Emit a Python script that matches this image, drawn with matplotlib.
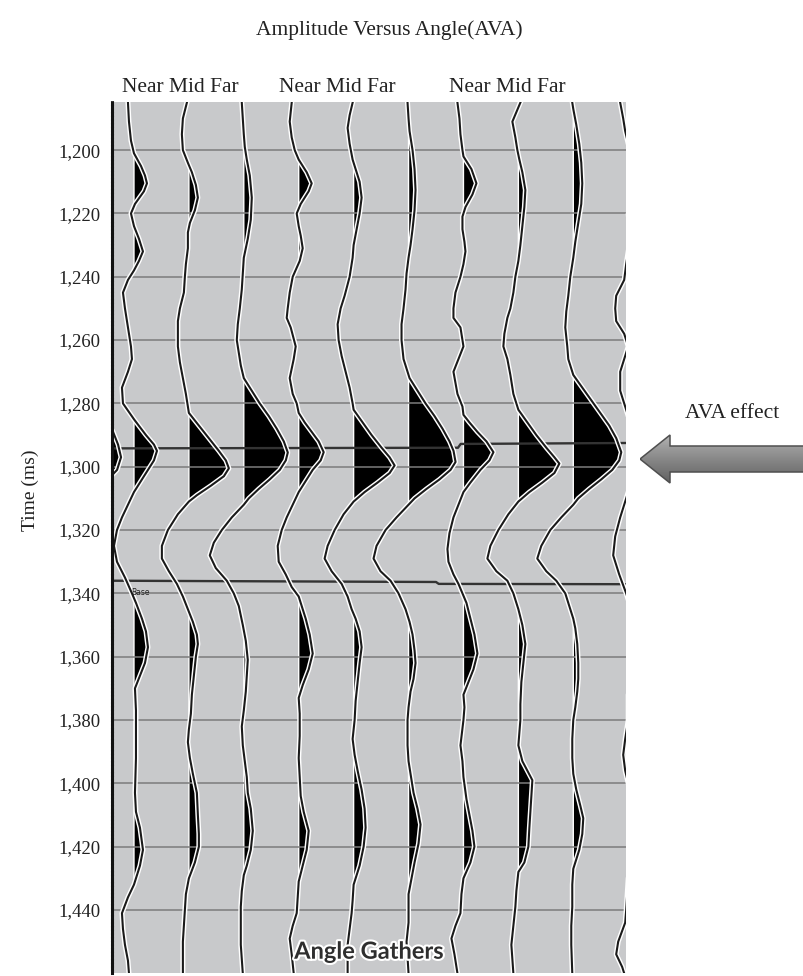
import numpy as np
import matplotlib.pyplot as plt
import matplotlib.patheffects as pe
from matplotlib.patches import Polygon

plt.rcParams['font.family'] = ['Liberation Serif', 'DejaVu Serif']

# wiggle picks per trace: (time ms, amplitude), left to right
far_0 = [(1185, -2), (1200, 3), (1215, 8), (1234, 0), (1255, -6), (1272, 0), (1278, 12),
         (1284, 26), (1289, 34), (1293, 39), (1297, 42), (1301, 38), (1305, 26), (1311, 0),
         (1320, -22), (1328, -35), (1340, -10), (1360, 4), (1400, 3), (1415, 9), (1430, 0),
         (1460, -2)]
near_1 = [(1185, -6), (1191, -5), (1197, -3), (1201, 0), (1205, 7), (1208, 11), (1210.5, 13),
          (1213, 10), (1217, 1), (1220, -3), (1224, 0), (1228, 5), (1232, 9), (1235, 5),
          (1238, 0), (1241, -6), (1245, -11), (1250, -9), (1256, -6), (1262, -3), (1266, -2),
          (1270, -6), (1275, -12), (1280, -11), (1285, 0), (1290, 12), (1293, 20), (1295, 23),
          (1298, 20), (1302, 12), (1305, 6), (1308, 0), (1312, -6), (1316, -12), (1320, -17),
          (1325, -20), (1330, -17), (1335, -9), (1340, -2), (1343, 2), (1348, 8), (1352, 12),
          (1357, 14), (1362, 11), (1366, 6), (1370, 1), (1377, 2), (1392, 2), (1403, 1),
          (1409, 2), (1414, 6), (1421, 9), (1426, 6), (1432, 0), (1436, -6), (1441, -12),
          (1446, -11), (1451, -9), (1456, -6), (1460, -5)]
mid_2 = [(1185, -2), (1190, -6), (1195, -7), (1200, -6), (1204, -1), (1207, 3), (1211, 7),
         (1215, 9), (1219, 6), (1223, 1), (1226, -1), (1231, -1), (1236, -3), (1240, -4),
         (1245, -5), (1250, -9), (1254, -11), (1262, -11), (1267, -9), (1272, -6), (1277, -3),
         (1283, 0), (1287, 10), (1291, 20), (1295, 30), (1298, 37), (1300.5, 40), (1303, 35),
         (1306, 22), (1309, 8), (1311, 0), (1315, -11), (1320, -21), (1325, -27), (1329, -27),
         (1333, -20), (1337, -12), (1341, -6), (1345, -1), (1349, 4), (1353, 8), (1356, 9),
         (1360, 7), (1366, 5), (1372, 3), (1378, 2), (1383, 0), (1387, -1), (1392, 1),
         (1397, 4), (1403, 8), (1410, 9), (1416, 10), (1420, 10), (1425, 6), (1430, 0),
         (1435, -3), (1440, -4), (1445, -5), (1450, -6), (1460, -6)]
far_3 = [(1185, -2), (1190, -1), (1195, 0), (1199, 1), (1203, 3), (1208, 6), (1215, 8),
         (1222, 7), (1228, 4), (1234, 0), (1239, -1), (1244, -2), (1250, -4), (1255, -6),
         (1260, -7), (1264, -5), (1268, -3), (1272, 0), (1276, 8), (1280, 16), (1284, 25),
         (1288, 33), (1292, 40), (1295.5, 44), (1298, 42), (1301, 36), (1304, 26), (1307, 15),
         (1310, 5), (1312, 0), (1316, -12), (1320, -22), (1324, -30), (1328, -34), (1332, -28),
         (1336, -17), (1340, -10), (1344, -5), (1350, -1), (1355, 2), (1361, 4), (1366, 3),
         (1371, 2), (1377, 0), (1382, -2), (1388, -1), (1393, 1), (1398, 3), (1403, 4),
         (1408, 7), (1415, 9), (1421, 7), (1426, 3), (1429, 0), (1434, -2), (1439, -3),
         (1445, -3), (1451, -3), (1460, -1)]
near_4 = [(1185, -7), (1191, -9), (1196, -7), (1200, -4), (1203, 0), (1207, 8), (1210.5, 13),
          (1213, 10), (1217, 2), (1220, -2), (1224, 0), (1227, 2), (1231, 4), (1235, 1),
          (1240, -6), (1245, -9), (1250, -11), (1253, -12), (1256, -8), (1262, -3), (1266, -5),
          (1272, -9), (1277, -6), (1280, -2), (1283, 0), (1286, 6), (1289, 13), (1292, 20),
          (1295.4, 25), (1298, 22), (1301, 14), (1305, 6), (1308, 0), (1312, -6), (1316, -12),
          (1320, -17), (1325, -21), (1330, -20), (1334, -13), (1338, -7), (1341, 0), (1344, 3),
          (1348, 7), (1353, 11), (1359, 14), (1364, 10), (1369, 4), (1373, 0), (1378, 1),
          (1385, 1), (1392, 0), (1398, 1), (1404, 2), (1409, 5), (1415, 10), (1421, 8),
          (1426, 4), (1431, 0), (1436, -1), (1441, -2), (1445, -6), (1449, -9), (1454, -7),
          (1460, -5)]
mid_5 = [(1185, -1), (1189, -4), (1193, -6), (1198, -4), (1203, -1), (1206, 2), (1210, 6),
         (1215, 8), (1220, 6), (1225, 3), (1230, 0), (1234, -1), (1240, -4), (1246, -9),
         (1250, -13), (1255, -16), (1260, -15), (1265, -12), (1270, -8), (1275, -4), (1280, -1),
         (1282, 0), (1286, 9), (1290, 18), (1294, 28), (1297, 36), (1299.6, 41), (1302, 36),
         (1305, 24), (1308, 11), (1311, 0), (1315, -10), (1320, -19), (1325, -26), (1329, -29),
         (1333, -22), (1337, -12), (1341, -6), (1345, -2), (1348, 2), (1352, 6), (1357, 8),
         (1362, 6), (1368, 4), (1374, 2), (1380, 1), (1386, -1), (1391, 1), (1396, 4),
         (1402, 8), (1408, 11), (1414, 12), (1420, 10), (1426, 6), (1432, 0), (1437, -1),
         (1441, -2), (1446, -4), (1451, -6), (1460, -6)]
far_6 = [(1185, -1), (1190, 0), (1194, 1), (1200, 4), (1206, 6), (1212.6, 7), (1219, 6),
         (1225, 4), (1230, 2), (1234, 0), (1239, -2), (1244, -3), (1250, -5), (1255, -7),
         (1260, -7), (1266, -5), (1270, -1), (1272, 1), (1276, 9), (1280, 17), (1284, 26),
         (1288, 34), (1292, 41), (1295, 45), (1298.5, 47), (1301, 42), (1304, 31), (1307, 18),
         (1310, 6), (1312, 0), (1316, -12), (1320, -23), (1325, -32), (1329, -35), (1333, -28),
         (1336, -18), (1340, -10), (1345, -3), (1349, 1), (1353, 4), (1358, 6), (1362, 7),
         (1367, 5), (1371, 2), (1376, 0), (1380, -1), (1388, -1), (1393, 0), (1397, 2),
         (1403, 5), (1408, 9), (1413, 12), (1419, 10), (1425, 6), (1430, 3), (1435, 0),
         (1444, 0), (1450, -2), (1460, 0)]
near_7 = [(1185, -6), (1190, -4), (1195, -3), (1200, -1), (1202, 0), (1206, 8), (1210.5, 13),
          (1214, 9), (1218, 2), (1221, -1), (1225, -1), (1229, 1), (1232, 2), (1236, 0),
          (1240, -3), (1245, -8), (1250, -10), (1253, -10), (1256, -3), (1262, 0), (1266, -5),
          (1270, -10), (1277, -6), (1281, -1), (1283.6, 0), (1286, 6), (1289, 14), (1292, 23),
          (1295.4, 30), (1298, 26), (1301, 17), (1305, 7), (1308, 0), (1312, -5), (1316, -10),
          (1321, -14), (1326, -16), (1330, -15), (1334, -10), (1337, -5), (1340, -1), (1343, 3),
          (1348, 7), (1353, 11), (1359, 14), (1364, 10), (1368, 5), (1372, 0), (1376, 1),
          (1380, 0), (1388, -3), (1393, -1), (1398, 0), (1405, 3), (1410, 6), (1415, 9),
          (1420, 11), (1425, 7), (1430, 0), (1435, -2), (1441, -3), (1445, -8), (1449, -12),
          (1454, -9), (1460, -6)]
mid_8 = [(1185, 2), (1188, -2), (1191, -6), (1196, -3), (1200, -1), (1203, 1), (1207, 4),
         (1212.6, 7), (1218, 6), (1224, 4), (1230, 2), (1235, 0), (1240, -3), (1245, -5),
         (1250, -8), (1253, -11), (1258, -14), (1262, -15), (1266, -11), (1271, -8), (1277, -5),
         (1282, 0), (1286, 9), (1290, 18), (1294, 28), (1297, 36), (1299, 41), (1302, 36),
         (1305, 24), (1308, 11), (1311, 0), (1315, -10), (1320, -20), (1325, -28), (1329, -31),
         (1333, -22), (1336, -11), (1340, -5), (1345, 0), (1350, 4), (1356, 7), (1362, 5),
         (1368, 3), (1375, 2), (1380, 2), (1388, 0), (1393, 4), (1399, 14), (1404, 13),
         (1409, 12), (1414, 11), (1420, 10), (1425, 6), (1428, 0), (1434, -2), (1439, -3),
         (1445, -5), (1451, -7), (1460, -5)]
far_9 = [(1185, -1), (1187, 0), (1192, 3), (1198, 6), (1204, 8), (1210.5, 9), (1217, 8),
         (1223, 5), (1229, 2), (1234, 0), (1240, -3), (1246, -5), (1251, -7), (1256, -8),
         (1262, -6), (1266, -5), (1271, 0), (1275, 9), (1279, 18), (1283, 27), (1287, 36),
         (1291, 43), (1295.4, 48), (1298, 46), (1301, 39), (1304, 28), (1307, 16), (1310, 5),
         (1312, 0), (1316, -12), (1320, -23), (1325, -32), (1329, -36), (1333, -27),
         (1336, -17), (1340, -8), (1345, -3), (1348, 0), (1351, 2), (1356, 4), (1362, 5),
         (1367, 5), (1371, 4), (1376, 2), (1380, 0), (1386, -1), (1392, -1), (1397, 0),
         (1402, 3), (1407, 7), (1411, 10), (1416, 9), (1421, 6), (1427, 0), (1432, -1),
         (1439, -1), (1445, -2), (1451, -2), (1460, -1)]
near_10 = [(1185, -8), (1190, -5), (1194, -3), (1198, 0), (1205, 8), (1210, 13), (1215, 8),
           (1220, 0), (1228, 2), (1236, -2), (1241, -4), (1246, -12), (1250, -13), (1254, -12),
           (1258, -4), (1262, 0), (1266, -4), (1270, -8), (1276, -8), (1280, -4), (1284, 0),
           (1295, 25), (1308, 0), (1316, -8), (1322, -13), (1328, -15), (1334, -9), (1340, -2),
           (1344, 2), (1359, 14), (1372, 0), (1380, 0), (1386, -3), (1391, -5), (1396, -3),
           (1400, 0), (1415, 10), (1430, 0), (1440, -2), (1444, -3), (1450, -10), (1454, -12),
           (1458, -6), (1460, -4)]

traces = [far_0, near_1, mid_2, far_3, near_4, mid_5, far_6, near_7, mid_8, far_9, near_10]
gain = 1 / 54.9  # amplitude units per trace spacing

grid_times = np.arange(1200, 1441, 20)

# interpreted horizons (trace position, time)
top_x = [0.6, 6.9, 6.95, 9.96]
top_t = [1294.2, 1294.0, 1292.8, 1292.5]
base_x = [0.6, 6.5, 6.55, 9.96]
base_t = [1336.0, 1336.4, 1337.0, 1337.1]

group_labels = ['Near Mid Far', 'Near Mid Far', 'Near Mid Far']

fig = plt.figure(figsize=(8.04, 9.76), dpi=100)
ax = fig.add_axes([112 / 804, 3 / 976, 514 / 804, 871 / 976])
ax.set_facecolor('#c8c9cb')

halo = [pe.withStroke(linewidth=3.6, foreground='white')]
for pos, tr in enumerate(traces):
    t = np.array([p[0] for p in tr], dtype=float)
    a = np.array([p[1] for p in tr], dtype=float)
    x = pos + a * gain
    ax.fill_betweenx(t, pos, x, where=a > 0, interpolate=True,
                     facecolor='black', edgecolor='white', lw=1.0, zorder=2)
    ax.plot(x, t, color='#1a1a1a', lw=1.5, zorder=4, path_effects=halo)

for gt in grid_times:
    ax.axhline(gt, color='#7c7c7c', lw=1.1, zorder=3)
ax.plot(top_x, top_t, color='#333333', lw=1.7, zorder=3.5)
ax.plot(base_x, base_t, color='#333333', lw=1.7, zorder=3.5)
ax.text(0.95, 1338.2, 'Base', fontsize=5.5, family='DejaVu Sans', color='#222',
        va='top', ha='left', zorder=5)

ax.set_xlim(0.6, 9.96)
ax.set_ylim(1459.9, 1184.8)
ax.set_xticks([])
ax.set_yticks(grid_times)
ax.set_yticklabels([f'{v:,}' for v in grid_times])
ax.tick_params(axis='y', length=0, pad=8.5, labelsize=13.5, labelcolor='#222222')
for side in ['top', 'right', 'bottom']:
    ax.spines[side].set_visible(False)
ax.spines['left'].set_linestyle((0, (0.6, 0.6)))
ax.spines['left'].set_linewidth(2.2)
ax.spines['left'].set_color('#111111')
ax.spines['left'].set_zorder(6)

fig.text(30 / 804, 1 - 490 / 976, 'Time (ms)', rotation=90, ha='center', va='center',
         fontsize=14, color='#222222')
fig.text(389 / 804, 1 - 30 / 976, 'Amplitude Versus Angle(AVA)', ha='center', va='center',
         fontsize=15.5, color='#222222')
for lx, lab in zip([180, 337, 507], group_labels):
    fig.text(lx / 804, 1 - 88 / 976, lab, ha='center', va='center', fontsize=15.5,
             color='#222222')

fig.text(732 / 804, 1 - 413 / 976, 'AVA effect', ha='center', va='center', fontsize=15.5,
         color='#222222')

# shaded block arrow pointing at the horizon
arrow_px = [(640, 459), (670, 435), (670, 446), (806, 446), (806, 472), (670, 472), (670, 483)]
arr_ax = fig.add_axes([640 / 804, 1 - 484 / 976, 166 / 804, 50 / 976])
arr_ax.set_xlim(640, 806)
arr_ax.set_ylim(484, 434)
arr_ax.axis('off')
shade = np.linspace(0, 1, 64)[:, None] * np.ones((1, 4))
shade = np.interp(shade, [0, 0.25, 0.55, 1], [0.72, 0.62, 0.52, 0.38])
arrow = Polygon(arrow_px, closed=True, facecolor='none', edgecolor='#4f4f4f', lw=1.1)
arr_ax.add_patch(arrow)
img = arr_ax.imshow(shade, cmap='gray', vmin=0, vmax=1, aspect='auto',
                    extent=(640, 806, 484, 434), origin='upper', zorder=1)
img.set_clip_path(arrow)
arrow.set_zorder(2)

ax.text(0.5, 0.025, 'Angle Gathers', transform=ax.transAxes, ha='center', va='center',
        fontsize=17, fontweight='bold', family=['Lato', 'DejaVu Sans'], color='#2e2e2e',
        zorder=7, path_effects=[pe.withStroke(linewidth=3, foreground='white')])

fig.savefig('out.png', dpi=100)
